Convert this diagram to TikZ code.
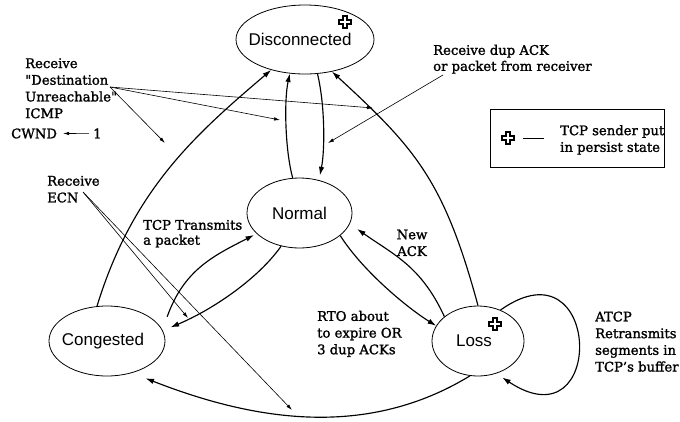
\documentclass[tikz,border=0pt]{standalone}
\usepackage{fontspec}
\setmainfont{DejaVu Serif}
\newfontfamily\notefont{DejaVu Serif}[Ligatures=TeXOff, FakeBold=1.5]
\newfontfamily\statefont{Liberation Sans}
\usetikzlibrary{arrows.meta,shapes.geometric}

\tikzset{
  state/.style={draw, ellipse, line width=0.8pt, inner sep=0pt,
    font=\statefont\fontsize{17}{20}\selectfont},
  notetext/.style={inner sep=0pt, font=\notefont\fontsize{13.2}{16.7}\selectfont},
  note/.style={notetext, align=left, anchor=north west},
  trans/.style={line width=1.15pt, -{Latex[length=8.5pt,width=5.5pt]}},
  pointer/.style={line width=0.6pt, -{Latex[length=6pt,width=3.5pt]}},
  persist/.pic={
    \draw[line width=1.5pt, fill=white]
      (-2.2,-5.8) -- (2.2,-5.8) -- (2.2,-2.2) -- (5.8,-2.2) -- (5.8,2.2)
      -- (2.2,2.2) -- (2.2,5.8) -- (-2.2,5.8) -- (-2.2,2.2) -- (-5.8,2.2)
      -- (-5.8,-2.2) -- (-2.2,-2.2) -- cycle;
  }
}

\begin{document}
\begin{tikzpicture}[x=1pt,y=-1pt]
\useasboundingbox (0,0) rectangle (680,421);

% states
\node[state, minimum width=138pt, minimum height=69pt] (dis) at (305,39.5)
  {\makebox[0pt]{Disconnected\kern10pt}};
\node[state, minimum width=105pt, minimum height=70pt] (nor) at (299.5,213)
  {\makebox[0pt]{Normal}};
\node[state, minimum width=116pt, minimum height=70pt] (con) at (107,341)
  {\makebox[0pt]{Congested\kern8pt}};
\node[state, minimum width=92pt, minimum height=70pt] (los) at (478,341)
  {\makebox[0pt]{Loss\kern8pt}};

% persist markers
\pic at (345,22) {persist};
\pic at (495,324) {persist};

% transitions
\draw[trans] (con.106) .. controls (133,189) and (196,134) .. (dis.222);
\draw[trans] (nor.101) .. controls (285,150) and (284,100) .. (dis.246);
\draw[trans] (dis.290) .. controls (325,105) and (325,150) .. ([yshift=5pt]nor.58);
\draw[trans] (los.90) .. controls (444,180) and (415,148) .. (dis.310);
\draw[trans] (nor.331) .. controls (362,270) and (406,307) .. (los.160);
\draw[trans] (los.144) .. controls (421,266) and (394,255) .. ([shift={(9,2)}]nor.344);
\draw[trans] (nor.241) .. controls (258,279) and (212,310) .. ([shift={(8.5,-2)}]con.12);
\draw[trans] ([shift={(11.6,-4.7)}]con.22) .. controls (184,270) and (213,256)
  .. ([shift={(-4,0)}]nor.208);
\draw[trans] (los.257) .. controls (368,438) and (257,422) .. ([shift={(7.5,7.3)}]con.316);
\draw[trans] (los.54) .. controls (602,238) and (607,447) .. ([shift={(3,5)}]los.304);

% event labels
\node[note] (dest) at (25,58.1)
  {Receive\\"Destination\\Unreachable"\\ICMP};
\node[notetext, anchor=base west] (cwnd) at (11,138.3) {CWND};
\node[notetext, anchor=base west] (one) at (93,138.3) {1};
\draw[pointer, shorten >=6pt, shorten <=4pt] (one.west) -- (cwnd.east);

\node[note] (ecn) at (47,175.7) {Receive\\ECN};
\node[note, font=\notefont\fontsize{13.2}{16}\selectfont] (dup) at (433,44.6)
  {Receive dup ACK\\or packet from receiver};
\node[note, font=\notefont\fontsize{13.2}{15}\selectfont] (tx) at (143,219.7)
  {TCP Transmits\\a packet};
\node[note, align=center, anchor=north] (newack) at (412,229.4) {New\\ACK};
\node[note] (rto) at (317,310.6) {RTO about\\to expire OR\\3 dup ACKs};
\node[note] (atcp) at (595,311.4) {ATCP\\Retransmits\\segments in\\TCP’s buffer};

% pointers from event labels
\coordinate (dsrc) at (110,87);
\coordinate (d1) at (165,143);
\coordinate (d2) at (280,120);
\coordinate (d3) at (373,108);
\draw[pointer] (dsrc) -- (d1);
\draw[pointer] (dsrc) -- (d2);
\draw[pointer] (dsrc) -- (d3);

\coordinate (asrc) at (443,75);
\coordinate (a1) at (328,143);
\draw[pointer] (asrc) -- (a1);

\coordinate (esrc) at (83,192);
\coordinate (e1) at (188,318);
\coordinate (e2) at (292,410);
\draw[pointer] (esrc) -- (e1);
\draw[pointer] (esrc) -- (e2);

% legend
\node[draw, line width=0.8pt, minimum width=174pt, minimum height=58pt, inner sep=0pt]
  (legend) at (577,138) {};
\pic at (508,138) {persist};
\coordinate (dashL) at (523,138);
\coordinate (dashR) at (544,138);
\draw[line width=0.6pt] (dashL) -- (dashR);
\node[note] (legtext) at (560,124.9) {TCP sender put\\in persist state};
\end{tikzpicture}
\end{document}
